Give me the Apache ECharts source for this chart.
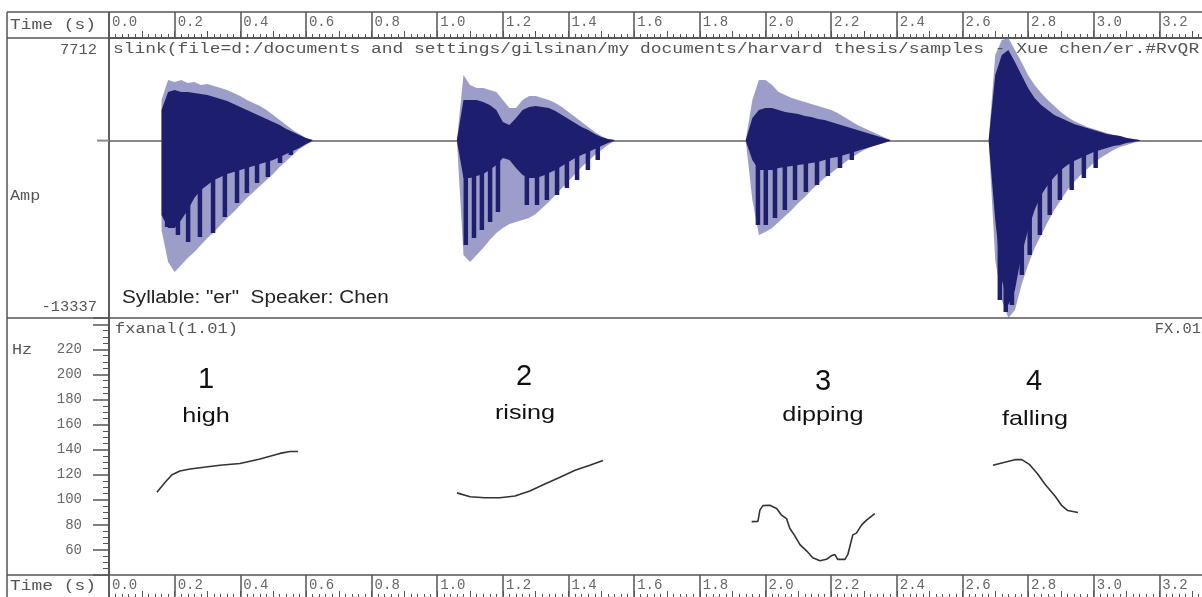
<!DOCTYPE html>
<html><head><meta charset="utf-8">
<script src="https://cdn.jsdelivr.net/npm/echarts@6/dist/echarts.min.js"></script>
<style>html,body{margin:0;padding:0;background:#fff}#c{width:1202px;height:597px}</style>
</head><body><div id="c"></div>
<script>
// ---------- axes ----------
const timeMin = 0, timeMax = 3.4, timeLabelStep = 0.2, timeTickStep = 0.1;
const ampMin = -13337, ampMax = 7712;
const hzMin = 40, hzMax = 245, hzStep = 20;
const hzLabels = [60, 80, 100, 120, 140, 160, 180, 200, 220];

// ---------- waveform envelopes (amplitude), sampled every 0.02 s ----------
const sylStart = [0.16, 1.06, 1.94, 2.68];
const sampleStep = 0.02;

const syl1LightTop = [3053,4557,4407,4557,4331,4407,4181,4256,4106,3955,3805,3579,3354,3053,2827,2602,2301,1925,1549,1173,797,496,195,45];
const syl1DarkTop  = [2301,3655,3805,3655,3655,3579,3504,3429,3279,3128,2978,2752,2527,2301,2075,1850,1624,1399,1173,872,647,421,195,45];
const syl1LightBot = [-6723,-9129,-9881,-9355,-8829,-8377,-7851,-7325,-6873,-6347,-5821,-5369,-4843,-4317,-3865,-3414,-2963,-2512,-1985,-1534,-1083,-632,-331,-30];
const syl1DarkBot  = [-5595,-6573,-6573,-5971,-5219,-4317,-3715,-3339,-2963,-2737,-2512,-2361,-2211,-2061,-1910,-1760,-1609,-1459,-1233,-1008,-782,-557,-256,-30];

const syl2LightTop = [45,4933,4181,3955,3955,3805,3655,3053,2451,2451,3053,3354,3354,3203,3053,2827,2527,2151,1775,1399,1023,647,346,120,45];
const syl2DarkTop  = [45,3053,3053,3053,2903,2677,2301,1399,1173,1699,2301,2527,2602,2527,2451,2226,1925,1624,1323,1023,797,496,271,120,45];
const syl2LightBot = [-30,-8603,-9129,-8603,-8077,-7475,-6949,-6573,-6272,-6121,-5971,-5821,-5519,-5069,-4617,-4091,-3565,-3038,-2512,-1985,-1534,-1083,-707,-331,-30];
const syl2DarkBot  = [-30,-2813,-2813,-2662,-2512,-2211,-1835,-1309,-1459,-2061,-2587,-2813,-2813,-2662,-2437,-2211,-1910,-1609,-1309,-1083,-857,-632,-406,-180,-30];

const syl3LightTop = [45,3053,4557,4557,4181,3655,3429,3203,3053,2903,2752,2602,2451,2301,2075,1775,1474,1173,947,722,496,271,45];
const syl3DarkTop  = [45,1699,2301,2451,2451,2301,2151,2075,2000,1850,1775,1624,1549,1399,1248,1098,947,797,647,496,346,195,45];
const syl3LightBot = [-30,-4467,-7099,-6873,-6573,-6121,-5670,-5219,-4693,-4241,-3715,-3264,-2813,-2437,-2061,-1685,-1309,-1008,-707,-481,-331,-180,-30];
const syl3DarkBot  = [-30,-1459,-2211,-2211,-2211,-2061,-1985,-1910,-1835,-1760,-1685,-1609,-1459,-1309,-1233,-1083,-933,-782,-632,-481,-331,-180,-30];

const syl4LightTop = [45,6437,7565,7712,6813,5911,4933,4181,3579,3053,2602,2151,1775,1474,1248,1023,872,722,571,421,346,195,120,45];
const syl4DarkTop  = [45,4933,6437,6813,5911,4933,3955,3203,2677,2301,1925,1699,1474,1248,1098,947,797,647,496,421,346,195,120,45];
const syl4LightBot = [-30,-8979,-11987,-13337,-12739,-10859,-9355,-8077,-7099,-6121,-5219,-4467,-3715,-3113,-2587,-2136,-1685,-1309,-1008,-707,-481,-331,-180,-30];
const syl4DarkBot  = [-30,-5971,-10483,-12363,-11235,-8603,-6723,-5219,-4091,-3339,-2737,-2211,-1835,-1534,-1309,-1083,-857,-707,-557,-406,-331,-180,-105,-30];

// glottal pulse stripes (time s, lowest amplitude)
const pulseTimes = [0.177,0.210,0.241,0.277,0.317,0.353,0.390,0.420,0.451,0.484,0.521,0.554,
  1.087,1.112,1.136,1.161,1.185,1.273,1.304,1.334,1.365,1.395,1.426,1.459,1.489,
  1.977,2.001,2.029,2.059,2.090,2.123,2.157,2.190,2.227,2.263,
  2.714,2.732,2.751,2.781,2.805,2.836,2.866,2.897,2.933,2.970,3.006];
const pulseLows = [-6497,-7099,-7625,-7249,-6949,-5745,-4693,-3941,-3188,-2737,-1685,-1083,
  -7851,-7325,-6723,-6121,-5369,-4843,-4843,-4467,-4091,-3565,-2963,-2211,-1459,
  -6347,-6347,-5821,-5219,-4467,-3865,-3339,-2662,-2061,-1459,
  -11987,-12889,-12363,-10107,-8603,-7099,-5595,-4467,-3715,-2813,-2061];

// ---------- pitch tracks (time s, Hz) ----------
const pitch1T  = [0.146,0.171,0.192,0.216,0.247,0.277,0.338,0.399,0.460,0.521,0.551,0.576];
const pitch1Hz = [106,114,120,123,124.5,125.5,127.5,129,132.5,137,138.5,138.5];
const pitch2T  = [1.060,1.100,1.145,1.191,1.237,1.282,1.328,1.374,1.420,1.465,1.505];
const pitch2Hz = [105.5,102.4,101.6,101.6,103,107,112.6,118,123.6,127.5,131.4];
const pitch3T  = [1.958,1.977,1.983,1.992,2.013,2.034,2.049,2.064,2.074,2.090,2.105,2.125,2.144,2.166,2.186,2.201,2.211,2.220,2.242,2.251,2.266,2.277,2.293,2.308,2.333];
const pitch3Hz = [82.6,82.8,91.7,95.3,95.6,93,87.7,85,77.3,71,64.2,59.3,53.8,51.4,52.5,55.4,56.4,52.5,52.5,56.4,72,73.4,80,83.8,89];
const pitch4T  = [2.693,2.729,2.760,2.781,2.805,2.830,2.851,2.882,2.903,2.921,2.952];
const pitch4Hz = [127.5,130,132,132,128,120.4,112.6,103,95.3,91.4,89.9];

const toneNumbers = ['1','2','3','4'];
const toneNames = ['high','rising','dipping','falling'];

// ---------- build ----------
const lightTops = [syl1LightTop, syl2LightTop, syl3LightTop, syl4LightTop];
const lightBots = [syl1LightBot, syl2LightBot, syl3LightBot, syl4LightBot];
const darkTops = [syl1DarkTop, syl2DarkTop, syl3DarkTop, syl4DarkTop];
const darkBots = [syl1DarkBot, syl2DarkBot, syl3DarkBot, syl4DarkBot];
const pitchT = [pitch1T, pitch2T, pitch3T, pitch4T];
const pitchHz = [pitch1Hz, pitch2Hz, pitch3Hz, pitch4Hz];

const LIGHT = '#9d9dc9', DARK = '#1e1e6e', FRAME = '#555';
const MONO = '"Liberation Mono", monospace';
const SANS = '"Liberation Sans", Arial, sans-serif';
const GL = 109, GW = 1116;   // 328.2 px per second

function envelope(tops, bots, color) {
  return {
    type: 'custom', xAxisIndex: 2, yAxisIndex: 1, silent: true, animation: false,
    data: sylStart.map(t => [t, 0]),
    renderItem(params, api) {
      const i = params.dataIndex, t0 = sylStart[i], top = tops[i], bot = bots[i];
      const pts = [];
      for (let k = 0; k < top.length; k++) pts.push(api.coord([t0 + k * sampleStep, top[k]]));
      for (let k = bot.length - 1; k >= 0; k--) pts.push(api.coord([t0 + k * sampleStep, bot[k]]));
      return { type: 'polygon', shape: { points: pts }, style: { fill: color } };
    }
  };
}

function timeRowAxes(grid) {
  return [{
    gridIndex: grid, type: 'value', position: 'top', min: timeMin, max: timeMax, interval: timeLabelStep,
    axisLine: { show: true, lineStyle: { color: FRAME, width: 1.5 } },
    axisTick: { show: false },
    axisLabel: { inside: true, margin: 3, align: 'left', verticalAlign: 'top', padding: [0, 0, 0, 3],
      fontFamily: MONO, fontSize: 14, color: '#666', formatter: v => v.toFixed(1) },
    splitLine: { show: true, lineStyle: { color: FRAME, width: 1.5 } }
  }, {
    gridIndex: grid, type: 'value', position: 'bottom', min: timeMin, max: timeMax, interval: timeTickStep,
    axisLine: { show: true, onZero: false, lineStyle: { color: FRAME, width: 1.5 } },
    axisTick: { show: true, inside: true, length: 7, lineStyle: { color: FRAME, width: 1 } },
    minorTick: { show: true, splitNumber: 5, length: 4, lineStyle: { color: FRAME, width: 1 } },
    axisLabel: { show: false }, splitLine: { show: false }
  }];
}

const hiddenY = g => ({ gridIndex: g, type: 'value', min: 0, max: 1, show: false });

function txt(text, x, y, o) {
  o = o || {};
  return { type: 'text', x, y, scaleX: o.sx || 1, z: 100,
    style: { text, fontFamily: o.ff || MONO, fontSize: o.fs || 14, fill: o.fill || '#555',
      align: o.align || 'left', verticalAlign: 'middle', fontWeight: o.fw || 'normal' } };
}
function ln(x1, y1, x2, y2, c, w) {
  return { type: 'line', z: 90, shape: { x1, y1, x2, y2 }, style: { stroke: c || FRAME, lineWidth: w || 1.5 } };
}

const toneNumPos = [[206, 380], [524, 377], [823, 382], [1034, 382]];
const toneNamePos = [[206, 416], [525, 413], [823, 415], [1035, 419]];

const graphics = [
  ln(7, 12, 1202, 12), ln(7, 38, 1202, 38), ln(7, 318, 1202, 318), ln(7, 575, 1202, 575),
  ln(7, 12, 7, 597), ln(GL, 12, GL, 597),
  ln(97, 140.6, GL, 140.6, '#888', 2),
  txt('Time (s)', 10, 25, { sx: 1.28 }),
  txt('Time (s)', 10, 586, { sx: 1.28 }),
  txt('7712', 97, 50, { align: 'right', sx: 1.1 }),
  txt('slink(file=d:/documents and settings/gilsinan/my documents/harvard thesis/samples - Xue chen/er.#RvQR', 113, 49, { sx: 1.28 }),
  txt('Amp', 10, 196, { sx: 1.2 }),
  txt('-13337', 97, 307, { align: 'right', sx: 1.1 }),
  txt('Syllable: "er"  Speaker: Chen', 122, 298, { ff: SANS, fs: 18, fill: '#222', sx: 1.15 }),
  txt('fxanal(1.01)', 115, 329, { sx: 1.22 }),
  txt('FX.01', 1201, 329, { align: 'right', sx: 1.1 }),
  txt('Hz', 12, 350, { sx: 1.2 })
];
toneNumbers.forEach((s, i) => graphics.push(txt(s, toneNumPos[i][0], toneNumPos[i][1], { ff: SANS, fs: 29, fill: '#111', align: 'center' })));
toneNames.forEach((s, i) => graphics.push(txt(s, toneNamePos[i][0], toneNamePos[i][1], { ff: SANS, fs: 21, fill: '#111', align: 'center', sx: 1.2 })));

const gridBase = { left: GL, width: GW, outerBoundsMode: 'none', containLabel: false };
const option = {
  animation: false,
  backgroundColor: '#fff',
  grid: [
    Object.assign({}, gridBase, { top: 12, height: 26 }),
    Object.assign({}, gridBase, { top: 38, height: 280 }),
    Object.assign({}, gridBase, { top: 318, height: 257 }),
    Object.assign({}, gridBase, { top: 575, height: 23 })
  ],
  xAxis: [
    ...timeRowAxes(0),
    { gridIndex: 1, type: 'value', min: timeMin, max: timeMax,
      axisLine: { show: true, onZero: true, lineStyle: { color: '#888', width: 2 } },
      axisTick: { show: false }, axisLabel: { show: false }, splitLine: { show: false } },
    { gridIndex: 2, type: 'value', min: timeMin, max: timeMax, show: false },
    ...timeRowAxes(3)
  ],
  yAxis: [
    hiddenY(0),
    { gridIndex: 1, type: 'value', min: ampMin, max: ampMax,
      axisLine: { show: true, lineStyle: { color: FRAME, width: 1.5 } },
      axisTick: { show: false }, axisLabel: { show: false }, splitLine: { show: false } },
    { gridIndex: 2, type: 'value', min: hzMin, max: hzMax, interval: hzStep,
      axisLine: { show: true, lineStyle: { color: FRAME, width: 2 } },
      axisTick: { show: true, length: 16, lineStyle: { color: FRAME, width: 1.5 } },
      minorTick: { show: true, splitNumber: 4, length: 6, lineStyle: { color: FRAME, width: 1 } },
      axisLabel: { margin: 27, fontFamily: MONO, fontSize: 14, color: '#666',
        formatter: v => hzLabels.indexOf(v) >= 0 ? String(v) : '' },
      splitLine: { show: false } },
    hiddenY(3)
  ],
  series: [
    envelope(lightTops, lightBots, LIGHT),
    envelope(darkTops, darkBots, DARK),
    { type: 'custom', xAxisIndex: 2, yAxisIndex: 1, silent: true, animation: false,
      data: pulseTimes.map((t, i) => [t, pulseLows[i]]),
      renderItem(params, api) {
        const p0 = api.coord([api.value(0), 0]);
        const p1 = api.coord([api.value(0), api.value(1)]);
        return { type: 'rect', shape: { x: p0[0] - 2.25, y: p0[1], width: 4.5, height: p1[1] - p0[1] }, style: { fill: DARK } };
      } },
    ...pitchT.map((ts, i) => ({
      type: 'line', xAxisIndex: 3, yAxisIndex: 2, silent: true, animation: false,
      symbol: 'none', showSymbol: false,
      data: ts.map((t, k) => [t, pitchHz[i][k]]),
      lineStyle: { color: '#333', width: 1.6 }
    }))
  ],
  graphic: { elements: graphics }
};

const chart = echarts.init(document.getElementById('c'), null, { renderer: 'canvas' });
chart.setOption(option);
</script></body></html>
